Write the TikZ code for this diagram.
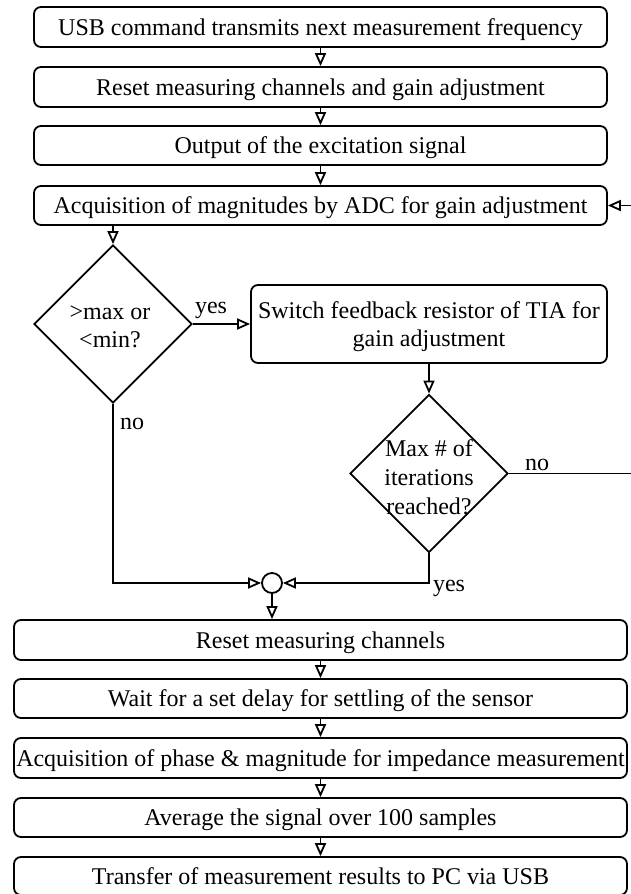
\documentclass[tikz,border=0pt]{standalone}
\usepackage{fontspec}
\setmainfont{Liberation Serif}
\usetikzlibrary{arrows.meta,shapes.geometric}

\tikzset{
  every node/.style={font=\fontsize{24}{28}\selectfont},
  flowbox/.style={draw, line width=1.8pt, rounded corners=7pt, inner sep=0pt,
                  minimum width=#1, align=center, text depth=0pt},
  flowbox/.default=573pt,
  decision/.style={draw, diamond, line width=1.8pt, inner sep=0pt,
                   minimum width=158pt, minimum height=158pt},
  junction/.style={draw, circle, line width=1.8pt, inner sep=0pt, minimum size=20pt},
  flow/.style={line width=1.8pt, -{Triangle[open, length=13pt, width=11pt]}},
  tag/.style={inner sep=0pt},
}

\begin{document}
\begin{tikzpicture}[x=1pt, y=-1pt]
  \useasboundingbox (0,0) rectangle (631,894);

  % upper sequence of steps
  \node[flowbox, minimum height=40pt] (b1) at (320.5,27)
    {USB command transmits next measurement frequency};
  \node[flowbox, minimum height=40pt] (b2) at (320.5,87)
    {Reset measuring channels and gain adjustment};
  \node[flowbox, minimum height=39pt] (b3) at (320.5,145.5)
    {Output of the excitation signal};
  \node[flowbox, minimum height=39pt] (b4) at (320.5,205.5)
    {Acquisition of magnitudes by ADC for gain adjustment};

  % gain adjustment loop
  \node[decision] (d1) at (113,324) {};
  \node[tag, align=center] (d1t) at (110,327) {>max or\\<min?};
  \node[flowbox=356pt, minimum height=78pt] (b5) at (429,324)
    {Switch feedback resistor of TIA for\\gain adjustment};
  \node[decision] (d2) at (429,473.5) {};
  \node[tag, align=center, font=\fontsize{24}{29}\selectfont] (d2t) at (429,477)
    {Max \# of\\iterations\\reached?};
  \node[junction] (j) at (272,583) {};

  % lower sequence of steps
  \node[flowbox=613pt, minimum height=40pt] (b6) at (320.5,640)
    {Reset measuring channels};
  \node[flowbox=613pt, minimum height=39pt] (b7) at (320.5,698.5)
    {Wait for a set delay for settling of the sensor};
  \node[flowbox=613pt, minimum height=40pt] (b8) at (320.5,758)
    {Acquisition of phase \& magnitude for impedance measurement};
  \node[flowbox=613pt, minimum height=39pt] (b9) at (320.5,817.5)
    {Average the signal over 100 samples};
  \node[flowbox=613pt, minimum height=38pt] (b10) at (320.5,876)
    {Transfer of measurement results to PC via USB};

  % routing points
  \coordinate (lb) at (113,583);
  \coordinate (rb) at (429,583);
  \coordinate (loopA) at (640,473.5);
  \coordinate (loopB) at (640,205.5);

  % connectors
  \draw[flow] (b1) -- (b2);
  \draw[flow] (b2) -- (b3);
  \draw[flow] (b3) -- (b4);
  \draw[flow] (b4.south -| d1.north) -- (d1.north);
  \draw[flow] (d1.east) -- (b5.west);
  \draw[flow] (b5.south) -- (d2.north);
  \draw[flow] (d2.east) -- (loopA) -- (loopB) -- (b4.east);
  \draw[flow] (d1.south) -- (lb) -- (j.west);
  \draw[flow] (d2.south) -- (rb) -- (j.east);
  \draw[flow] (j.south) -- (b6.north -| j.south);
  \draw[flow] (b6) -- (b7);
  \draw[flow] (b7) -- (b8);
  \draw[flow] (b8) -- (b9);
  \draw[flow] (b9) -- (b10);

  % branch labels
  \node[tag] (yes1) at (211,310) {yes};
  \node[tag] (no1) at (132,424) {no};
  \node[tag] (no2) at (537,465) {no};
  \node[tag] (yes2) at (449,588) {yes};
\end{tikzpicture}
\end{document}
